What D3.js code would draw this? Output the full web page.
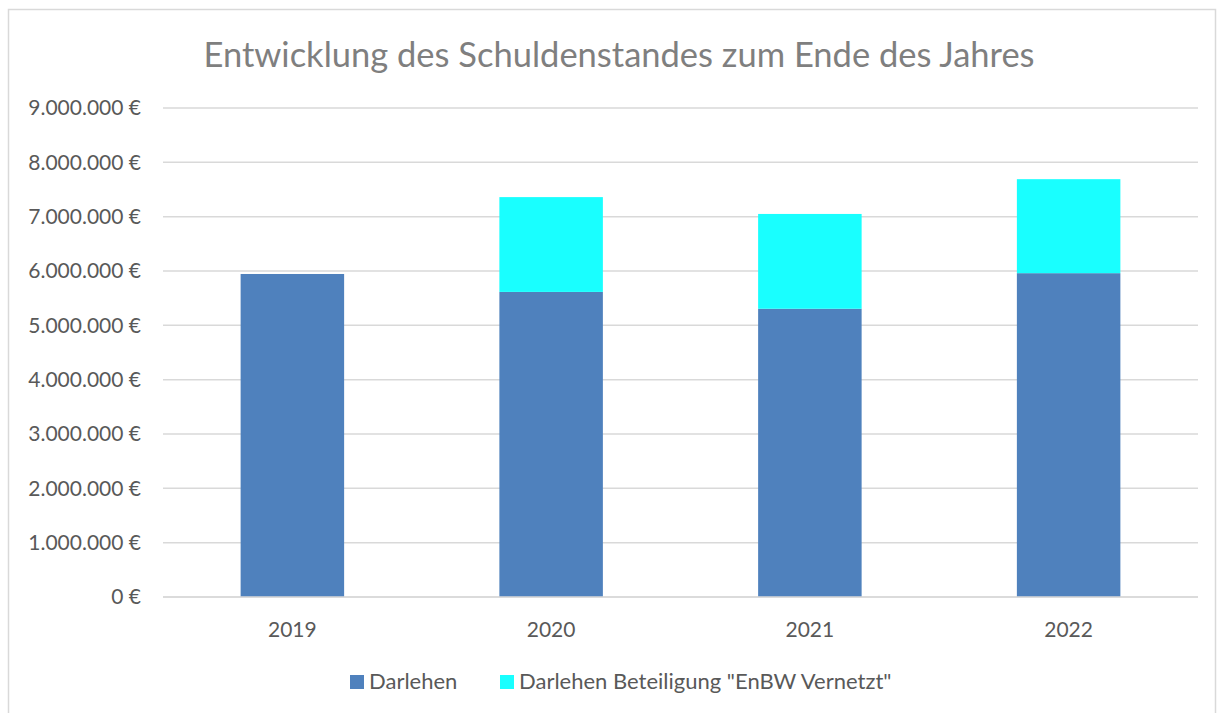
<!DOCTYPE html>
<html>
<head>
<meta charset="utf-8">
<title>Entwicklung des Schuldenstandes</title>
<script src="https://cdn.jsdelivr.net/npm/d3@7"></script>
<style>
    body { margin: 0; background: white; }
    svg { display: block; font-family: Lato, "Noto Sans", sans-serif; }
</style>
</head>
<body>
<svg id="chart" width="1223" height="713"></svg>
<script>
    // data
    var years = ["2019", "2020", "2021", "2022"]
    var darlehen = [5945000, 5615000, 5305000, 5960000]
    var beteiligung = [0, 1745000, 1745000, 1730000]
    var seriesNames = ["Darlehen", "Darlehen Beteiligung \"EnBW Vernetzt\""]
    var seriesColors = ["#4F81BD", "#19FFFF"]
    var yTicks = [0, 1000000, 2000000, 3000000, 4000000, 5000000, 6000000, 7000000, 8000000, 9000000]
    var title = "Entwicklung des Schuldenstandes zum Ende des Jahres"

    var svg = d3.select("#chart")
    var plotL = 163, plotR = 1198, plotT = 108, plotB = 597

    var de = d3.formatLocale({decimal: ",", thousands: ".", grouping: [3], currency: ["", " €"]})
    var fmt = de.format("$,.0f")

    // chart frame
    svg.append("rect")
        .attr("x", 8.5).attr("y", 9.5)
        .attr("width", 1207).attr("height", 720)
        .attr("fill", "white").attr("stroke", "#D9D9D9").attr("stroke-width", 1.5)

    var x = d3.scaleBand().domain(years).range([plotL, plotR]).padding(0)
    var y = d3.scaleLinear().domain([0, 9000000]).range([plotB, plotT])
    var barW = x.bandwidth() * 0.4

    // gridlines
    svg.append("g").selectAll("line")
        .data(yTicks)
        .enter().append("line")
        .attr("x1", plotL).attr("x2", plotR)
        .attr("y1", d => y(d)).attr("y2", d => y(d))
        .attr("stroke", "#D9D9D9").attr("stroke-width", 1.5)

    // y labels
    svg.append("g").selectAll("text")
        .data(yTicks)
        .enter().append("text")
        .attr("x", 141)
        .attr("y", d => y(d))
        .attr("dy", "0.35em")
        .attr("text-anchor", "end")
        .attr("fill", "#595959")
        .style("font-size", "21px")
        .text(d => fmt(d))

    // stacked bars
    var rows = years.map((yr, i) => ({year: yr, Darlehen: darlehen[i], Beteiligung: beteiligung[i]}))
    var stack = d3.stack().keys(["Darlehen", "Beteiligung"])(rows)

    svg.append("g").selectAll("g")
        .data(stack)
        .enter().append("g")
        .attr("fill", (d, i) => seriesColors[i])
        .selectAll("rect")
        .data(d => d)
        .enter().append("rect")
        .attr("x", d => x(d.data.year) + (x.bandwidth() - barW) / 2)
        .attr("y", d => y(d[1]))
        .attr("width", barW)
        .attr("height", d => y(d[0]) - y(d[1]))

    // baseline axis
    svg.append("line")
        .attr("x1", plotL).attr("x2", plotR)
        .attr("y1", y(0)).attr("y2", y(0))
        .attr("stroke", "#D9D9D9").attr("stroke-width", 1.5)

    // x labels
    svg.append("g").selectAll("text")
        .data(years)
        .enter().append("text")
        .attr("x", d => x(d) + x.bandwidth() / 2)
        .attr("y", 637)
        .attr("text-anchor", "middle")
        .attr("fill", "#595959")
        .style("font-size", "21px")
        .text(d => d)

    // title
    svg.append("text")
        .attr("x", 619).attr("y", 67)
        .attr("text-anchor", "middle")
        .attr("fill", "#7F7F7F")
        .style("font-size", "34.5px")
        .text(title)

    // legend
    var legendX = [350, 500]
    var lg = svg.append("g").selectAll("g")
        .data(seriesNames)
        .enter().append("g")
        .attr("transform", (d, i) => "translate(" + legendX[i] + ",675)")
    lg.append("rect")
        .attr("width", 14).attr("height", 14)
        .attr("fill", (d, i) => seriesColors[i])
    lg.append("text")
        .attr("x", 19).attr("y", 14)
        .attr("fill", "#595959")
        .style("font-size", "22px")
        .text(d => d)
</script>
</body>
</html>
